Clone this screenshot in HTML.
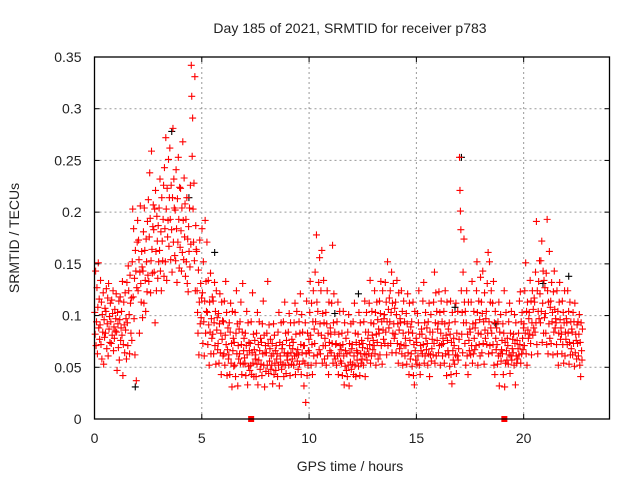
<!DOCTYPE html>
<html><head><meta charset="utf-8"><style>
html,body{margin:0;padding:0;background:#fff;}
svg text{font-family:"Liberation Sans",sans-serif;fill:#222;}
</style></head><body>
<svg id="chart" width="640" height="480" viewBox="0 0 640 480" xmlns="http://www.w3.org/2000/svg">
<rect width="640" height="480" fill="#fff"/>
<text x="350" y="33" font-size="14" text-anchor="middle">Day 185 of 2021, SRMTID for receiver p783</text>
<text x="350" y="471" font-size="14" text-anchor="middle">GPS time / hours</text>
<text x="19" y="238" font-size="14" text-anchor="middle" transform="rotate(-90 19 238)">SRMTID / TECUs</text>
<g id="grid"></g><g id="marks"></g><g id="axes"></g>
</svg>
<script>
const xTicks=[0,5,10,15,20];
const yTicks=[0,0.05,0.1,0.15,0.2,0.25,0.3,0.35];
const yTickLabels=["0","0.05","0.1","0.15","0.2","0.25","0.3","0.35"];
const bucketStart=0;
const bucketWidth=0.25;
const redValues=[
[.103,.082,.143,.071,.094,.127,.063,.108,.151,.088,.116,.077],
[.091,.134,.072,.113,.058,.101,.084,.122,.053,.096,.079,.107],
[.083,.104,.126,.068,.092,.117,.061,.131,.087,.099,.074,.112],
[.094,.073,.115,.081,.102,.124,.066,.089,.078,.106,.085,.097],
[.121,.084,.047,.103,.092,.069,.114,.057,.096,.118,.076,.088],
[.104,.081,.133,.042,.072,.113,.091,.064,.122,.086,.097,.058],
[.132,.093,.071,.148,.124,.101,.063,.139,.112,.083,.117,.076],
[.152,.203,.118,.184,.097,.136,.062,.163,.143,.037,.127,.171],
[.192,.124,.173,.154,.083,.142,.206,.131,.113,.162,.147,.098],
[.143,.181,.112,.204,.163,.134,.104,.174,.152,.123,.191,.139],
[.212,.133,.176,.238,.194,.122,.153,.259,.164,.141,.186,.207],
[.183,.142,.203,.093,.221,.162,.124,.196,.172,.136,.187,.152],
[.204,.163,.232,.143,.181,.124,.214,.172,.153,.193,.226,.138],
[.243,.184,.152,.272,.203,.134,.223,.176,.192,.251,.167,.214],
[.262,.193,.154,.226,.183,.142,.214,.281,.171,.232,.204,.158],
[.202,.153,.241,.184,.132,.213,.171,.253,.193,.146,.224,.166],
[.223,.182,.143,.204,.161,.268,.192,.154,.233,.176,.208,.138],
[.193,.152,.214,.131,.174,.123,.186,.162,.204,.147,.226,.169],
[.342,.312,.254,.291,.203,.171,.228,.153,.331,.124,.187,.164],
[.162,.124,.103,.083,.144,.062,.113,.173,.092,.131,.098,.117],
[.184,.122,.073,.152,.094,.061,.114,.192,.083,.133,.104,.171],
[.103,.072,.134,.091,.052,.113,.084,.141,.063,.097,.078,.118],
[.082,.114,.063,.093,.132,.071,.104,.053,.124,.086,.098,.067],
[.073,.102,.054,.092,.121,.064,.083,.043,.113,.077,.095,.061],
[.094,.063,.114,.052,.081,.133,.072,.103,.042,.067,.088,.058],
[.062,.093,.043,.084,.112,.054,.073,.031,.104,.066,.078,.051],
[.074,.052,.103,.041,.083,.124,.063,.092,.032,.071,.058,.087],
[.063,.094,.054,.113,.072,.043,.084,.131,.053,.066,.078,.059],
[.054,.083,.042,.071,.104,.062,.033,.093,.051,.074,.066,.047],
[.073,.052,.094,.043,.064,.122,.054,.082,.041,.067,.076,.058],
[.062,.041,.083,.053,.103,.033,.072,.057,.094,.066,.048,.078],
[.053,.074,.042,.092,.063,.114,.052,.081,.031,.064,.071,.046],
[.064,.083,.052,.133,.073,.044,.091,.056,.068,.077,.048,.061],
[.052,.073,.034,.063,.092,.043,.081,.054,.066,.047,.071,.058],
[.063,.041,.084,.052,.103,.032,.074,.061,.055,.093,.048,.068],
[.072,.053,.094,.041,.064,.113,.052,.083,.044,.076,.061,.057],
[.063,.084,.052,.102,.071,.042,.093,.064,.053,.077,.058,.068],
[.074,.052,.093,.061,.112,.043,.082,.063,.104,.056,.067,.048],
[.062,.094,.053,.083,.121,.072,.043,.101,.064,.084,.056,.071],
[.032,.071,.054,.093,.016,.063,.114,.042,.083,.052,.066,.077],
[.064,.103,.133,.081,.052,.112,.072,.043,.094,.124,.061,.087],
[.073,.142,.094,.054,.178,.113,.062,.104,.083,.132,.067,.156],
[.092,.063,.124,.081,.163,.054,.102,.071,.134,.093,.058,.078],
[.071,.103,.052,.092,.124,.061,.083,.043,.113,.074,.066,.088],
[.082,.064,.112,.073,.168,.054,.093,.121,.061,.084,.058,.072],
[.073,.052,.094,.061,.113,.043,.082,.063,.104,.071,.056,.067],
[.054,.083,.042,.072,.104,.061,.033,.093,.051,.066,.078,.047],
[.063,.041,.084,.052,.101,.032,.073,.064,.055,.092,.048,.068],
[.072,.053,.094,.043,.061,.112,.052,.083,.041,.074,.066,.057],
[.064,.082,.051,.103,.072,.042,.093,.063,.054,.076,.058,.069],
[.073,.052,.094,.063,.114,.041,.084,.062,.103,.057,.068,.078],
[.084,.063,.112,.072,.134,.054,.093,.061,.104,.081,.067,.076],
[.092,.071,.124,.063,.103,.052,.082,.113,.074,.096,.058,.087],
[.083,.114,.062,.102,.133,.071,.094,.053,.124,.086,.077,.097],
[.101,.073,.132,.084,.113,.062,.094,.152,.071,.106,.088,.117],
[.094,.124,.073,.103,.142,.064,.112,.083,.131,.092,.078,.107],
[.082,.113,.064,.101,.134,.073,.092,.054,.122,.086,.068,.097],
[.093,.072,.124,.063,.104,.052,.083,.114,.071,.094,.061,.078],
[.071,.102,.053,.092,.121,.064,.084,.043,.112,.076,.058,.089],
[.063,.094,.051,.083,.113,.042,.072,.033,.104,.066,.057,.078],
[.074,.053,.102,.061,.093,.124,.052,.082,.043,.071,.066,.087],
[.082,.063,.114,.072,.132,.054,.093,.061,.103,.078,.067,.088],
[.073,.052,.094,.063,.112,.041,.084,.062,.101,.056,.068,.077],
[.084,.062,.113,.073,.142,.054,.093,.122,.061,.104,.076,.087],
[.092,.064,.123,.071,.103,.052,.083,.114,.072,.094,.061,.078],
[.073,.104,.054,.092,.124,.063,.081,.042,.113,.076,.066,.087],
[.062,.093,.051,.082,.114,.043,.074,.034,.103,.066,.057,.078],
[.071,.053,.094,.062,.112,.044,.083,.061,.104,.057,.068,.077],
[.253,.221,.201,.183,.124,.082,.103,.064,.142,.093,.174,.113],
[.073,.104,.052,.093,.124,.061,.082,.043,.113,.076,.066,.087],
[.084,.062,.113,.071,.133,.054,.092,.063,.104,.078,.067,.088],
[.093,.071,.124,.152,.103,.052,.083,.114,.072,.096,.061,.137],
[.082,.113,.064,.102,.143,.073,.094,.053,.122,.086,.078,.097],
[.104,.072,.131,.083,.161,.063,.094,.152,.071,.113,.088,.124],
[.083,.064,.112,.072,.133,.052,.093,.043,.104,.078,.067,.088],
[.072,.053,.094,.061,.113,.032,.084,.063,.101,.056,.067,.076],
[.063,.092,.043,.083,.124,.031,.074,.054,.103,.066,.057,.078],
[.071,.053,.094,.062,.112,.044,.083,.061,.104,.057,.068,.077],
[.064,.082,.052,.101,.073,.033,.093,.061,.054,.076,.058,.068],
[.083,.062,.114,.072,.123,.054,.094,.063,.103,.078,.067,.088],
[.092,.071,.124,.083,.151,.063,.104,.052,.113,.086,.078,.097],
[.103,.082,.134,.073,.114,.062,.093,.124,.081,.106,.088,.117],
[.113,.084,.142,.093,.191,.072,.124,.063,.104,.133,.097,.153],
[.121,.093,.153,.104,.172,.074,.112,.143,.083,.134,.098,.127],
[.102,.083,.141,.072,.193,.124,.063,.113,.092,.162,.078,.108],
[.114,.073,.132,.094,.103,.062,.123,.084,.143,.106,.088,.097],
[.093,.072,.124,.063,.104,.052,.083,.113,.132,.096,.077,.088],
[.082,.063,.114,.072,.103,.054,.093,.124,.061,.084,.077,.097],
[.093,.072,.124,.083,.104,.053,.074,.113,.062,.094,.068,.087],
[.084,.062,.103,.073,.094,.051,.112,.064,.082,.076,.058,.091],
[.073,.094,.061,.082,.101,.052,.074,.041,.093,.066,.057,.087]
];
const blackTimes=[1.9,3.6,4.4,5.6,11.2,12.3,16.8,17.1,18.7,20.9,22.1];
const blackValues=[0.031,0.278,0.214,0.161,0.102,0.121,0.108,0.253,0.092,0.131,0.138];
const flagTimes=[7.3,19.1];
const NS='http://www.w3.org/2000/svg';
const L=94.5,R=609.5,T=57,B=419,XMAX=24,YMAX=0.35;
function xs(v){return L+(v/XMAX)*(R-L);}
function ys(v){return B-(v/YMAX)*(B-T);}
const grid=document.getElementById('grid');
const marks=document.getElementById('marks');
const axes=document.getElementById('axes');
function mk(tag,attrs,parent){const e=document.createElementNS(NS,tag);for(const k in attrs)e.setAttribute(k,attrs[k]);parent.appendChild(e);return e;}
yTicks.forEach((v,i)=>{
  if(v>0&&v<YMAX){
    const g=mk('line',{x1:L,x2:R,y1:ys(v),y2:ys(v),stroke:'#999','stroke-dasharray':'2,3','stroke-width':1},grid);
    
    
  }
  mk('line',{x1:L,x2:L+5,y1:ys(v),y2:ys(v),stroke:'#000'},axes);
  mk('line',{x1:R,x2:R-5,y1:ys(v),y2:ys(v),stroke:'#000'},axes);
  const tx=mk('text',{x:L-13,y:ys(v)+5,'font-size':14,'text-anchor':'end'},axes);
  tx.textContent=yTickLabels[i];
  
  
});
xTicks.forEach(v=>{
  if(v>0){
    const g=mk('line',{x1:xs(v),x2:xs(v),y1:T,y2:B,stroke:'#999','stroke-dasharray':'2,3','stroke-width':1},grid);
    
    
  }
  mk('line',{x1:xs(v),x2:xs(v),y1:B,y2:B-5,stroke:'#000'},axes);
  mk('line',{x1:xs(v),x2:xs(v),y1:T,y2:T+5,stroke:'#000'},axes);
  const tx=mk('text',{x:xs(v),y:B+24,'font-size':14,'text-anchor':'middle'},axes);
  tx.textContent=String(v);
  
  
});
const frame=mk('rect',{x:L,y:T,width:R-L,height:B-T,fill:'none',stroke:'#000','stroke-width':1.3},axes);


function plus(t,v,col){
  const x=xs(t),y=ys(v);
  return mk('path',{d:`M${x-3.5},${y}H${x+3.5}M${x},${y-3.5}V${y+3.5}`,stroke:col,'stroke-width':1.1,fill:'none'},marks);
}
blackTimes.forEach((t,i)=>{
  const p=plus(t,blackValues[i],'#000');
  
  
});
redValues.forEach((row,b)=>{
  row.forEach((v,j)=>{
    const t=bucketStart+b*bucketWidth+(j+0.5)*bucketWidth/row.length;
    const p=plus(t,v,'#f00');
    
    
  });
});
flagTimes.forEach(t=>{
  const r=mk('rect',{x:xs(t)-3,y:B-3,width:6,height:6,fill:'#f00'},marks);
  
  
});
</script>
</body></html>
